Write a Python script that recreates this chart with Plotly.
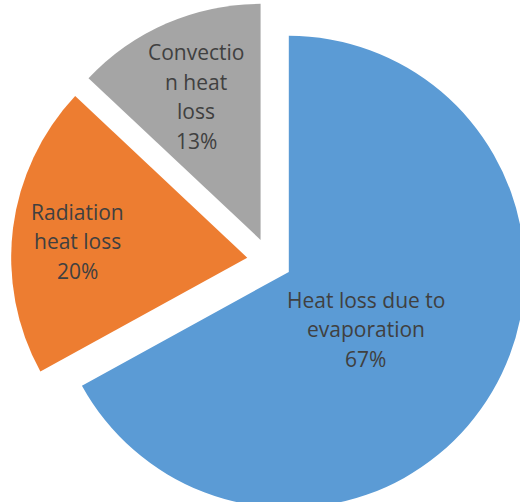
import math
import plotly.graph_objects as go

labels = ["Heat loss due to evaporation", "Radiation heat loss", "Convection heat loss"]
label_lines = [["Heat loss due to", "evaporation"], ["Radiation", "heat loss"], ["Convectio", "n heat", "loss"]]
values = [67, 20, 13]
colors = ["#5B9BD5", "#ED7D31", "#A5A5A5"]

# layout / style constants
W, H = 540, 530
BOX = (11, 2, 528, 519)          # pie domain box in px (left, top, right, bottom)
PULL = 0.095
label_radius = [0.406, 0.723, 0.665]      # fraction of radius from slice vertex
label_angle_shift = [6.0, -1.6, -0.7]     # degrees from slice bisector
LINE_GAP = 29.5
FONT = dict(family="Open Sans", size=21, color="#404040")

fig = go.Figure(
    go.Pie(
        labels=labels,
        values=values,
        textinfo="none",
        sort=False,
        direction="clockwise",
        rotation=0,
        pull=[PULL] * len(values),
        marker=dict(colors=colors, line=dict(width=0)),
        hoverinfo="skip",
        showlegend=False,
        domain=dict(x=[BOX[0] / W, BOX[2] / W], y=[1 - BOX[3] / H, 1 - BOX[1] / H]),
    )
)

# label placement derived from the pie geometry
cx = (BOX[0] + BOX[2]) / 2
cy = (BOX[1] + BOX[3]) / 2
r = min(BOX[2] - BOX[0], BOX[3] - BOX[1]) / (2 + 2 * PULL)
total = sum(values)
cum = 0
for i, v in enumerate(values):
    mid = (cum + v / 2) / total * 360
    cum += v
    vx = cx + PULL * r * math.sin(math.radians(mid))
    vy = cy - PULL * r * math.cos(math.radians(mid))
    a = math.radians(mid + label_angle_shift[i])
    tx = vx + label_radius[i] * r * math.sin(a)
    ty = vy - label_radius[i] * r * math.cos(a)
    lines = label_lines[i] + [f"{round(v / total * 100)}%"]
    n = len(lines)
    for j, line in enumerate(lines):
        ly = ty + (j - (n - 1) / 2) * LINE_GAP
        fig.add_annotation(
            x=tx / W, y=1 - ly / H, xref="paper", yref="paper",
            text=line, showarrow=False, xanchor="center", yanchor="middle",
            font=FONT,
        )

fig.update_layout(
    width=W,
    height=H,
    margin=dict(l=0, r=0, t=0, b=0),
    paper_bgcolor="white",
    plot_bgcolor="white",
)

fig.write_html(
    "out.html",
    config={"displayModeBar": False},
    post_script="document.documentElement.style.overflow='hidden';document.body.style.overflow='hidden';document.body.style.margin='0';",
)
